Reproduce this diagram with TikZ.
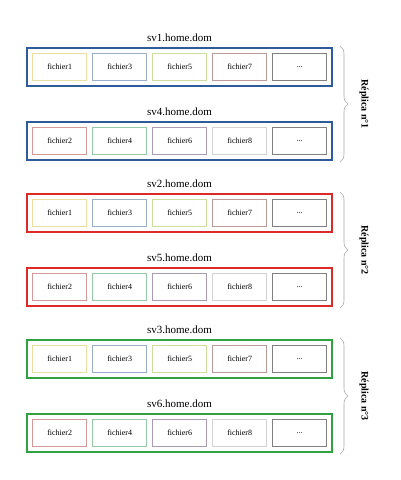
\documentclass[tikz,border=0pt]{standalone}
\usepackage{fontspec}
\setmainfont{Liberation Serif}
\usetikzlibrary{decorations.pathreplacing}
\definecolor{cblue}{HTML}{2F5B9A}
\definecolor{cred}{HTML}{DC2A2A}
\definecolor{cgreen}{HTML}{30A040}
\definecolor{fa}{HTML}{EADFA0}
\definecolor{fb}{HTML}{9DAFC8}
\definecolor{fc}{HTML}{CCDD9C}
\definecolor{fd}{HTML}{BC9A9A}
\definecolor{fe}{HTML}{808080}
\definecolor{ga}{HTML}{D49A9A}
\definecolor{gb}{HTML}{96C9A8}
\definecolor{gc}{HTML}{A89CB3}
\definecolor{gd}{HTML}{D2D2D2}
\definecolor{ge}{HTML}{808080}
\definecolor{bracecol}{HTML}{A8A8A8}
\newcommand\mydots{...}
\begin{document}
\begin{tikzpicture}[x=1pt,y=-1pt,
  server/.style={draw=#1,line width=2pt,minimum width=305pt,minimum height=38pt,inner sep=0pt},
  filebox/.style={draw=#1,line width=0.7pt,minimum width=54pt,minimum height=27pt,inner sep=0pt,font=\fontsize{8}{9}\selectfont},
  srvlabel/.style={font=\fontsize{11}{12}\selectfont},
  replabel/.style={font=\fontsize{10}{11}\selectfont\bfseries,rotate=-90},
  repbrace/.style={draw=bracecol,line width=0.6pt,decorate,decoration={brace,amplitude=8pt}}]
\useasboundingbox (0,0) rectangle (400,480);
\foreach \g/\col in {0/cblue,1/cred,2/cgreen}{
  \pgfmathtruncatemacro{\na}{\g+1}
  \pgfmathtruncatemacro{\nb}{\g+4}
  % first server of the group
  \node[server=\col] (srvA\g) at (179.5,{67+146*\g}) {};
  \node[srvlabel] (lblA\g) at (179.5,{37.5+146*\g}) {sv\na.home.dom};
  \foreach \k/\t/\c in {0/fichier1/fa,1/fichier3/fb,2/fichier5/fc,3/fichier7/fd,4/\mydots/fe}{
    \node[filebox=\c] (fA\g\k) at ({59.7+60*\k},{67+146*\g}) {\t};
  }
  % second server of the group
  \node[server=\col] (srvB\g) at (179.5,{141+146*\g}) {};
  \node[srvlabel] (lblB\g) at (179.5,{111.5+146*\g}) {sv\nb.home.dom};
  \foreach \k/\t/\c in {0/fichier2/ga,1/fichier4/gb,2/fichier6/gc,3/fichier8/gd,4/\mydots/ge}{
    \node[filebox=\c] (fB\g\k) at ({59.7+60*\k},{141+146*\g}) {\t};
  }
  \coordinate (bt\g) at (340,{46+146*\g});
  \coordinate (bb\g) at (340,{162+146*\g});
  \draw[repbrace] (bt\g) -- (bb\g);
  \node[replabel] (rep\g) at (364,{104+146*\g}) {Réplica n°\na};
}
\end{tikzpicture}
\end{document}
